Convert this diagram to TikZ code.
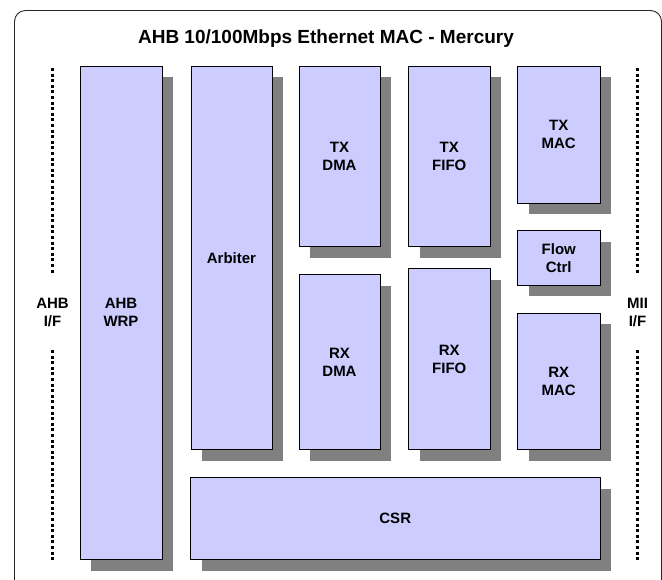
\documentclass[tikz,border=0pt]{standalone}
\usepackage{fontspec}
\setmainfont{Liberation Sans}
\usepackage{xcolor}
\usepackage{tikz}
\usetikzlibrary{shadows}

\definecolor{blockfill}{HTML}{CCCCFF}
\definecolor{shadowgray}{HTML}{808080}

\tikzset{
  block/.style={draw=black, line width=1pt, fill=blockfill, inner sep=0pt,
    align=center, font=\bfseries\fontsize{15}{18}\selectfont,
    drop shadow={shadow xshift=11pt, shadow yshift=-11pt, fill=shadowgray, opacity=1}},
  sidelabel/.style={align=center, inner sep=0pt, font=\bfseries\fontsize{15}{18}\selectfont},
  dotbus/.style={line width=3.2pt, dash pattern=on 3pt off 2.6pt}
}

\begin{document}
\begin{tikzpicture}[x=1pt, y=-1pt]
  \useasboundingbox (0,0) rectangle (662,579);
  \clip (0,0) rectangle (662,579);

  % ---- Outer frame (runs off the page at the bottom) ----
  \draw[black!85, line width=0.9pt, rounded corners=11pt]
    (14.5,620) -- (14.5,10.5) -- (661.5,10.5) -- (661.5,620);
  \node[font=\bfseries\fontsize{19}{22}\selectfont] (title) at (326,39) {AHB 10/100Mbps Ethernet MAC - Mercury};

  % ---- Bus interfaces ----
  \draw[dotbus] (52.5,68) -- (52.5,273);
  \draw[dotbus] (52.5,350) -- (52.5,561);
  \node[sidelabel] (ahbif) at (52.5,312) {AHB\\I/F};
  \draw[dotbus] (637.5,68) -- (637.5,273);
  \draw[dotbus] (637.5,350) -- (637.5,561);
  \node[sidelabel] (miiif) at (637.5,312) {MII\\I/F};

  % ---- Wrapper and arbiter ----
  \node[block, minimum width=82pt, minimum height=493.5pt] (wrp) at (121,312.75) {AHB\\WRP};
  \node[block, minimum width=81pt, minimum height=383.5pt] (arb) at (231.5,257.75) {Arbiter};

  % ---- DMA / FIFO columns ----
  \node[block, minimum width=81pt, minimum height=180.5pt] (txdma) at (339.5,156.25) {TX\\DMA};
  \node[block, minimum width=81pt, minimum height=175pt] (rxdma) at (339.5,362) {RX\\DMA};
  \node[block, minimum width=81.5pt, minimum height=180.5pt] (txfifo) at (449.25,156.25) {TX\\FIFO};
  \node[block, minimum width=81.5pt, minimum height=181pt] (rxfifo) at (449.25,359) {RX\\FIFO};

  % ---- MAC column ----
  \node[block, minimum width=82.5pt, minimum height=137pt] (txmac) at (558.75,134.5) {TX\\MAC};
  \node[block, minimum width=82.5pt, minimum height=54.5pt] (flow) at (558.75,257.75) {Flow\\Ctrl};
  \node[block, minimum width=82.5pt, minimum height=136.5pt] (rxmac) at (558.75,381.25) {RX\\MAC};

  % ---- Registers ----
  \node[block, minimum width=409.5pt, minimum height=82pt] (csr) at (395.25,518.5) {CSR};
\end{tikzpicture}
\end{document}
